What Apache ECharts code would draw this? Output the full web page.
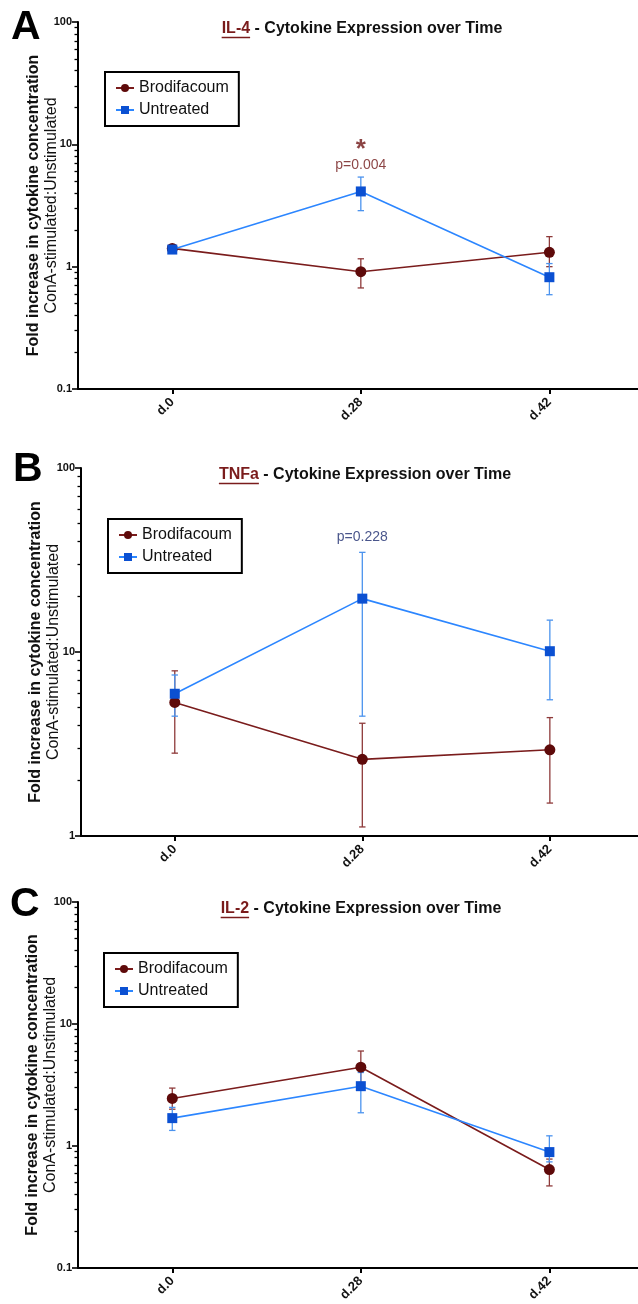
<!DOCTYPE html>
<html><head><meta charset="utf-8">
<script src="https://cdn.jsdelivr.net/npm/echarts@6/dist/echarts.min.js"></script>
<style>html,body{margin:0;padding:0;background:#fff}#c{width:638px;height:1304px}</style>
</head><body><div id="c"></div>
<script>
// ---------- data ----------
const categories = ['d.0', 'd.28', 'd.42'];
const seriesNames = ['Brodifacoum', 'Untreated'];

// IL-4
const il4Brod = [1.41, 0.91, 1.31];
const il4BrodLow = [1.36, 0.67, 1.00];
const il4BrodHigh = [1.46, 1.16, 1.76];
const il4Untr = [1.38, 4.12, 0.82];
const il4UntrLow = [1.34, 2.87, 0.59];
const il4UntrHigh = [1.42, 5.40, 1.06];
const il4NoteText = ['*', 'p=0.004'];
const il4NoteY = [9.1, 6.8];

// TNFa
const tnfBrod = [5.32, 2.61, 2.94];
const tnfBrodLow = [2.82, 1.12, 1.51];
const tnfBrodHigh = [7.9, 4.1, 4.4];
const tnfUntr = [5.93, 19.5, 10.1];
const tnfUntrLow = [4.48, 4.48, 5.5];
const tnfUntrHigh = [7.5, 34.8, 14.9];
const tnfNoteText = ['p=0.228'];
const tnfNoteY = [42];

// IL-2
const il2Brod = [2.45, 4.42, 0.64];
const il2BrodLow = [2.0, 3.3, 0.47];
const il2BrodHigh = [2.98, 6.0, 0.78];
const il2Untr = [1.69, 3.09, 0.89];
const il2UntrLow = [1.34, 1.87, 0.74];
const il2UntrHigh = [2.07, 4.0, 1.21];
const il2NoteText = [];
const il2NoteY = [];

const il4YRange = [0.1, 100];
const tnfYRange = [1, 100];
const il2YRange = [0.1, 100];
const noteX = 1; // index of d.28

// ---------- layout / style ----------
const FONT = '"Liberation Sans", Arial, Helvetica, sans-serif';
const BROD_MARK = '#5e0a0a', BROD_LINE = '#7a1c1c', BROD_ERR = '#8e3a3a';
const UNTR_MARK = '#0b50d2', UNTR_LINE = '#2c86ff', UNTR_ERR = '#4b93ee';

const panels = [
  {letter:'A', cyto:'IL-4', brod:[il4Brod, il4BrodLow, il4BrodHigh], untr:[il4Untr, il4UntrLow, il4UntrHigh],
   yr: il4YRange, notes:[il4NoteText, il4NoteY], noteColor:'#6e1414', nameGap:17,
   grid:{left:78, top:22, width:560, height:367}, legend:{left:105, top:72},
   titleX:362, titleY:29, letterX:11, letterY:28},
  {letter:'B', cyto:'TNFa', brod:[tnfBrod, tnfBrodLow, tnfBrodHigh], untr:[tnfUntr, tnfUntrLow, tnfUntrHigh],
   yr: tnfYRange, notes:[tnfNoteText, tnfNoteY], noteColor:'#1c2b6e', nameGap:18,
   grid:{left:81, top:468, width:557, height:368}, legend:{left:108, top:519},
   titleX:365, titleY:475, letterX:13, letterY:470},
  {letter:'C', cyto:'IL-2', brod:[il2Brod, il2BrodLow, il2BrodHigh], untr:[il2Untr, il2UntrLow, il2UntrHigh],
   yr: il2YRange, notes:[il2NoteText, il2NoteY], noteColor:'#6e1414', nameGap:18,
   grid:{left:78, top:902, width:560, height:367}, legend:{left:104, top:953},
   titleX:361, titleY:909, letterX:10, letterY:905}
];

function minorTicks(lo, hi) {
  const out = [];
  for (let d = lo; d < hi * 0.999; d *= 10) {
    for (let k = 2; k <= 9; k++) out.push(+(k * d).toPrecision(6));
  }
  return out;
}

function errRender(color) {
  return function (params, api) {
    const x = api.value(0), lo = api.value(1), hi = api.value(2);
    const p1 = api.coord([x, hi]), p2 = api.coord([x, lo]);
    const w = 3.2;
    const st = {stroke: color, lineWidth: 1.3};
    return {type: 'group', children: [
      {type: 'line', shape: {x1: p1[0], y1: p1[1], x2: p2[0], y2: p2[1]}, style: st},
      {type: 'line', shape: {x1: p1[0] - w, y1: p1[1], x2: p1[0] + w, y2: p1[1]}, style: st},
      {type: 'line', shape: {x1: p2[0] - w, y1: p2[1], x2: p2[0] + w, y2: p2[1]}, style: st}
    ]};
  };
}

const ctx = document.createElement('canvas').getContext('2d');
const TITLE_FONT = 'bold 16px ' + FONT;
ctx.font = TITLE_FONT;

const grids = [], xAxes = [], yAxes = [], series = [], legends = [], graphics = [];

panels.forEach((p, i) => {
  grids.push(Object.assign({containLabel: false}, p.grid));
  xAxes.push({
    type: 'value', gridIndex: i, min: -0.5, max: 2.47,
    splitLine: {show: false},
    axisLine: {show: true, onZero: false, lineStyle: {color: '#000', width: 2}},
    axisTick: {show: true, customValues: [0, 1, 2], length: 5, lineStyle: {color: '#000', width: 2}},
    axisLabel: {customValues: [0, 1, 2], formatter: v => categories[Math.round(v)], rotate: 45,
      fontSize: 13, fontWeight: 'bold', color: '#111', margin: 11, fontFamily: FONT}
  });
  yAxes.push({
    type: 'log', logBase: 10, gridIndex: i, min: p.yr[0], max: p.yr[1], position: 'left',
    splitLine: {show: false},
    axisLine: {show: true, onZero: false, lineStyle: {color: '#000', width: 2}},
    axisTick: {show: true, length: 6, lineStyle: {color: '#000', width: 1.6}},
    axisLabel: {fontSize: 11, fontWeight: 'bold', color: '#111', margin: 6, fontFamily: FONT,
      formatter: v => String(+v.toPrecision(3))},
    name: '{b|Fold increase in cytokine concentration}\n{r|ConA-stimulated:Unstimulated}',
    nameLocation: 'middle', nameRotate: 90, nameGap: p.nameGap, nameMoveOverlap: false,
    nameTextStyle: {align: 'center', fontFamily: FONT, rich: {
      b: {fontSize: 16, fontWeight: 'bold', color: '#111', lineHeight: 18, fontFamily: FONT, align: 'center'},
      r: {fontSize: 16, color: '#111', lineHeight: 18, fontFamily: FONT, align: 'center'}
    }}
  });
  yAxes.push({
    type: 'log', logBase: 10, gridIndex: i, min: p.yr[0], max: p.yr[1], position: 'left',
    splitLine: {show: false}, axisLine: {show: false, onZero: false}, axisLabel: {show: false},
    axisTick: {show: true, customValues: minorTicks(p.yr[0], p.yr[1]), length: 3.5,
      lineStyle: {color: '#000', width: 1.3}}
  });
  const ya = 2 * i;
  const errData = arr => categories.map((c, k) => [k, arr[1][k], arr[2][k]]);
  series.push({type: 'custom', name: 'errB' + i, xAxisIndex: i, yAxisIndex: ya, renderItem: errRender(BROD_ERR),
    encode: {x: 0, y: [1, 2]}, data: errData(p.brod), z: 1, silent: true});
  series.push({type: 'custom', name: 'errU' + i, xAxisIndex: i, yAxisIndex: ya, renderItem: errRender(UNTR_ERR),
    encode: {x: 0, y: [1, 2]}, data: errData(p.untr), z: 1, silent: true});
  series.push({type: 'line', name: seriesNames[0], xAxisIndex: i, yAxisIndex: ya,
    data: categories.map((c, k) => [k, p.brod[0][k]]),
    symbol: 'circle', symbolSize: 11, itemStyle: {color: BROD_MARK}, lineStyle: {color: BROD_LINE, width: 1.6}, z: 3});
  series.push({type: 'line', name: seriesNames[1], xAxisIndex: i, yAxisIndex: ya,
    data: categories.map((c, k) => [k, p.untr[0][k]]),
    symbol: 'rect', symbolSize: 10, itemStyle: {color: UNTR_MARK}, lineStyle: {color: UNTR_LINE, width: 1.6}, z: 4});
  if (p.notes[0].length) {
    series.push({type: 'scatter', name: 'note' + i, xAxisIndex: i, yAxisIndex: ya, silent: true, z: 5,
      symbolSize: 1, itemStyle: {color: 'rgba(0,0,0,0)'},
      data: p.notes[0].map((t, k) => ({value: [noteX, p.notes[1][k]],
        label: {show: true, position: 'inside', formatter: t, color: p.noteColor, fontFamily: FONT,
          fontSize: t === '*' ? 26 : 14, fontWeight: t === '*' ? 'bold' : 'normal'}}))});
  }
  legends.push({
    left: p.legend.left, top: p.legend.top, orient: 'vertical', data: seriesNames,
    borderColor: '#000', borderWidth: 2, borderRadius: 0, padding: [8, 10, 8, 10], itemGap: 6,
    itemWidth: 18, itemHeight: 10, backgroundColor: '#fff',
    textStyle: {fontSize: 16, color: '#111', fontFamily: FONT}
  });
  // title
  const rest = ' - Cytokine Expression over Time';
  const wPre = ctx.measureText(p.cyto).width, wAll = ctx.measureText(p.cyto + rest).width;
  const x0 = p.titleX - wAll / 2;
  graphics.push({type: 'text', x: x0, y: p.titleY, style: {text: p.cyto, font: TITLE_FONT, fill: '#7a1c1c',
    align: 'left', verticalAlign: 'middle', textAlign: 'left', textVerticalAlign: 'middle'}});
  graphics.push({type: 'text', x: x0 + wPre, y: p.titleY, style: {text: rest, font: TITLE_FONT, fill: '#111',
    align: 'left', verticalAlign: 'middle', textAlign: 'left', textVerticalAlign: 'middle'}});
  graphics.push({type: 'line', shape: {x1: x0, y1: p.titleY + 8.5, x2: x0 + wPre, y2: p.titleY + 8.5},
    style: {stroke: '#7a1c1c', lineWidth: 1.5}});
  graphics.push({type: 'text', x: p.letterX, y: p.letterY, style: {text: p.letter, font: 'bold 41px ' + FONT, fill: '#000',
    align: 'left', verticalAlign: 'middle', textAlign: 'left', textVerticalAlign: 'middle'}});
});

const chart = echarts.init(document.getElementById('c'), null, {renderer: 'canvas'});
chart.setOption({
  animation: false,
  backgroundColor: '#fff',
  textStyle: {fontFamily: FONT},
  grid: grids, xAxis: xAxes, yAxis: yAxes, legend: legends, series: series,
  graphic: {elements: graphics}
});
</script></body></html>
